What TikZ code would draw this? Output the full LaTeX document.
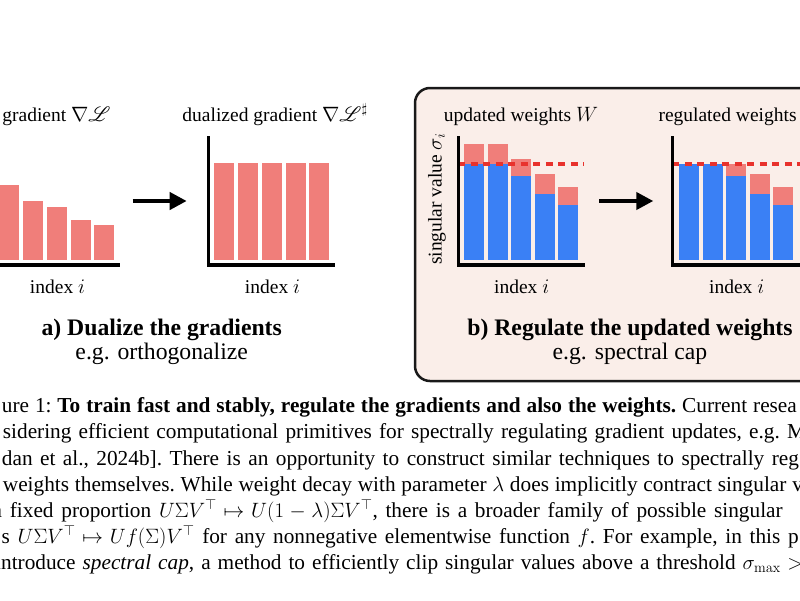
\documentclass[tikz,border=0pt]{standalone}
\usepackage[no-math]{fontspec}
\setmainfont{Liberation Serif}
\usepackage{mathrsfs}
\usetikzlibrary{arrows.meta}
\definecolor{barred}{RGB}{240,126,122}
\definecolor{barblue}{RGB}{58,128,245}
\definecolor{boxfill}{RGB}{250,238,233}
\definecolor{capred}{RGB}{232,50,45}
\newcommand{\capfont}{\fontsize{21.3}{26}\selectfont\frenchspacing\thickmuskip=5mu plus 1mu\medmuskip=4mu plus 1mu\relax}
\begin{document}
\begin{tikzpicture}[x=1pt,y=-1pt,
  axisline/.style={line width=3.3pt, line join=miter},
  bigarrow/.style={line width=4pt, -{Triangle[length=17pt,width=17pt]}},
  capline/.style={capred, line width=3.3pt, dash pattern=on 7pt off 5.5pt},
  lbl/.style={font=\fontsize{19.5}{23}\selectfont, inner sep=0pt, anchor=base},
  ttl/.style={font=\fontsize{23.7}{28}\selectfont\bfseries, inner sep=0pt, anchor=base},
  subttl/.style={font=\fontsize{23.7}{28}\selectfont, inner sep=0pt, anchor=base},
  capline txt/.style={font=\capfont, inner sep=0pt, anchor=base west}]
\useasboundingbox (0,0) rectangle (800,600);
\clip (0,0) rectangle (800,600);

% panel b background box
\draw[line width=2.5pt, rounded corners=15pt, fill=boxfill, draw=black!90] (415,88) rectangle (840,381);

% ---------- panel a, left chart ----------
\foreach \x/\t in {-0.9/185, 22.7/201, 46.7/207, 70.7/220, 94.3/225}
  \fill[barred] (\x,260) rectangle (\x+20,\t);
\draw[axisline] (-7,136) -- (-7,265) -- (120,265);
\node[lbl] (tga) at (56.5,121) {gradient $\nabla\mathscr{L}$};
\node[lbl] (ixa) at (57.5,293) {index $i$};

% arrow a
\coordinate (a1s) at (132.7,201);
\coordinate (a1e) at (186.7,201);
\draw[bigarrow] (a1s) -- (a1e);

% ---------- panel a, right chart ----------
\foreach \x in {214.3, 237.7, 261.7, 285.7, 309.3}
  \fill[barred] (\x,260) rectangle (\x+20,163.3);
\draw[axisline] (208.3,136) -- (208.3,265) -- (335,265);
\node[lbl] (tgb) at (275,121) {dualized gradient $\nabla\mathscr{L}^\sharp$};
\node[lbl] (ixb) at (272.5,293) {index $i$};

\node[ttl] (ta) at (161.7,335) {a) Dualize the gradients};
\node[subttl] (sa) at (161.7,359) {e.g. orthogonalize};

% ---------- panel b, left chart ----------
\foreach \x/\r/\b in {464/144/164, 487.6/144/164, 511.2/158.7/175.7, 534.8/174/194, 558.4/187.3/205}{
  \fill[barred] (\x,260) rectangle (\x+20,\r);
  \fill[barblue] (\x,260) rectangle (\x+20,\b);
}
\draw[capline] (458.3,164) -- (584,164);
\draw[axisline] (458.3,136) -- (458.3,265) -- (585,265);
\node[lbl] (tw) at (521,121) {updated weights $W$};
\node[lbl] (ixc) at (521.7,293) {index $i$};
\node[lbl, rotate=90, anchor=center] (sv) at (437,199) {singular value $\sigma_i$};

% arrow b
\coordinate (a2s) at (599.3,201);
\coordinate (a2e) at (653.3,201);
\draw[bigarrow] (a2s) -- (a2e);

% ---------- panel b, right chart ----------
\foreach \x/\r/\b in {679/164/164, 702.6/164/164, 726.2/164/175.7, 749.8/174/194, 773.4/187.3/205}{
  \fill[barred] (\x,260) rectangle (\x+20,\r);
  \fill[barblue] (\x,260) rectangle (\x+20,\b);
}
\draw[capline] (672.3,164) -- (810,164);
\draw[axisline] (672.3,136) -- (672.3,265) -- (810,265);
\node[lbl, anchor=base west] (trw) at (658.3,121) {regulated weights};
\node[lbl] (ixd) at (736.7,293) {index $i$};

\node[ttl] (tb) at (630,335) {b) Regulate the updated weights};
\node[subttl] (sb) at (630,359) {e.g. spectral cap};

% ---------- caption ----------
\node[capline txt] (c1) at (1.7,412) {\makebox[795pt][s]{ure 1: \textbf{To train fast and stably, regulate the gradients and also the weights.} Current resea}};
\node[capline txt] (c2) at (2.7,438.5) {\makebox[803pt][s]{sidering efficient computational primitives for spectrally regulating gradient updates, e.g. M}};
\node[capline txt] (c3) at (1.7,465) {\makebox[797pt][s]{dan et al., 2024b]. There is an opportunity to construct similar techniques to spectrally reg}};
\node[capline txt] (c4) at (2.7,491) {\makebox[800pt][s]{weights themselves. While weight decay with parameter $\lambda$ does implicitly contract singular v}};
\node[capline txt] (c5) at (-7.5,517) {\makebox[790pt][s]{a fixed proportion $U\Sigma V^\top \mapsto U(1-\lambda)\Sigma V^\top$, there is a broader family of possible singular}};
\node[capline txt] (c6) at (1.5,543) {\makebox[797pt][s]{s $U\Sigma V^\top \mapsto Uf(\Sigma)V^\top$ for any nonnegative elementwise function $f$. For example, in this p}};
\node[capline txt] (c7) at (-5,569) {\makebox[808pt][s]{introduce \emph{spectral cap}, a method to efficiently clip singular values above a threshold $\sigma_{\max} >$}};
\end{tikzpicture}
\end{document}
